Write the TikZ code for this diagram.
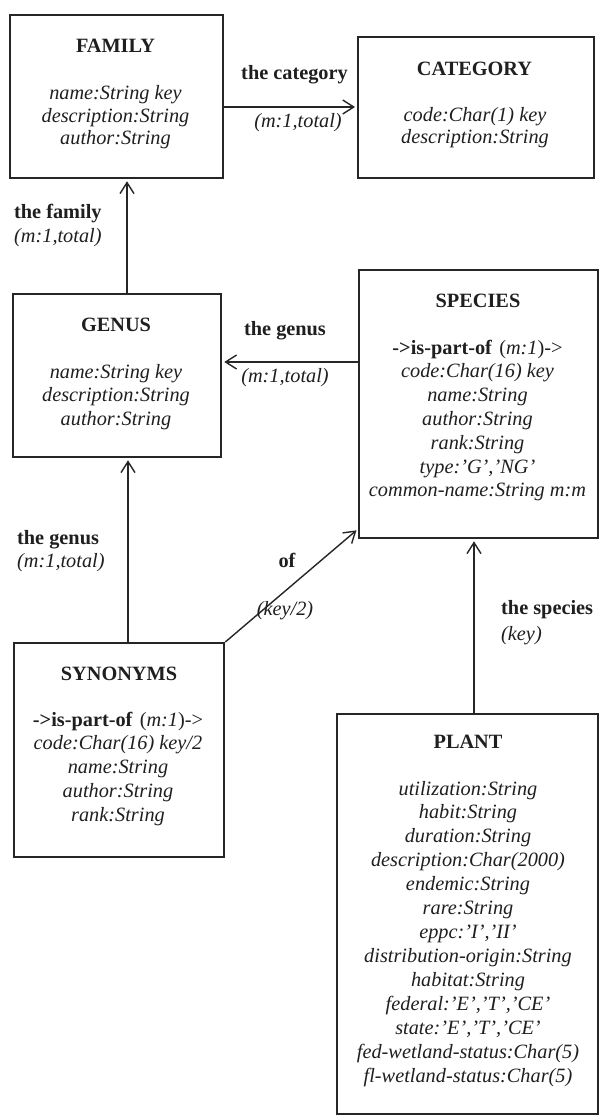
\documentclass[tikz,border=0pt]{standalone}
\usepackage{fontspec}
\setmainfont{Liberation Serif}
\usetikzlibrary{arrows.meta}
\begin{document}
\begin{tikzpicture}[x=1pt,y=-1pt,
  every node/.style={text=black!88},
  box/.style={draw=black!85, line width=2.3pt, anchor=north west, inner sep=0pt},
  conn/.style={draw=black!85, line width=1.4pt, -{Straight Barb[length=11pt,width=14pt,line width=1.4pt]}, shorten >=2pt},
  ttl/.style={font=\fontsize{20.3}{23}\selectfont\bfseries, inner sep=0pt, anchor=base},
  attr/.style={font=\fontsize{20.3}{23}\selectfont\itshape, inner sep=0pt, anchor=base},
  lbl/.style={font=\fontsize{20.3}{23}\selectfont\bfseries, inner sep=0pt},
  card/.style={font=\fontsize{20.3}{23}\selectfont\itshape, inner sep=0pt}]
\fill[white] (0,0) rectangle (599,1115);
\useasboundingbox (0,0) rectangle (599,1115);

% boxes
\node[box, minimum width=213pt, minimum height=163pt] (family) at (9,14) {};
\node[box, minimum width=236pt, minimum height=141pt] (category) at (357,36) {};
\node[box, minimum width=208pt, minimum height=163pt] (genus) at (12,293) {};
\node[box, minimum width=239pt, minimum height=268pt] (species) at (358,269) {};
\node[box, minimum width=210pt, minimum height=214pt] (synonyms) at (13,642) {};
\node[box, minimum width=261pt, minimum height=400pt] (plant) at (336,713) {};

% titles
\node[ttl] (familyT) at (115.5,52.7) {FAMILY};
\node[ttl] (categoryT) at (474.5,75.7) {CATEGORY};
\node[ttl] (genusT) at (116,331.7) {GENUS};
\node[ttl] (speciesT) at (478,307.7) {SPECIES};
\node[ttl] (synonymsT) at (119,680.7) {SYNONYMS};
\node[ttl] (plantT) at (468,748.7) {PLANT};

% attributes
\foreach \s [count=\i from 0] in {{name:String key},{description:String},{author:String}}
  \node[attr] (fam-\i) at (115.5,100+22.5*\i) {\s};
\foreach \s [count=\i from 0] in {{code:Char(1) key},{description:String}}
  \node[attr] (cat-\i) at (475,122+22*\i) {\s};
\foreach \s [count=\i from 0] in {{name:String key},{description:String},{author:String}}
  \node[attr] (gen-\i) at (116,378+23.5*\i) {\s};
\foreach \s [count=\i from 0] in {{\upshape\textbf{->is-part-of}\hspace{0.35em}(\textit{m:1})->},{code:Char(16) key},{name:String},{author:String},{rank:String},{type:'G','NG'},{common-name:String m:m}}
  \node[attr] (spe-\i) at (477.5,354+23.83*\i) {\s};
\foreach \s [count=\i from 0] in {{\upshape\textbf{->is-part-of}\hspace{0.35em}(\textit{m:1})->},{code:Char(16) key/2},{name:String},{author:String},{rank:String}}
  \node[attr] (syn-\i) at (118,726+23.75*\i) {\s};
\foreach \s [count=\i from 0] in {{utilization:String},{habit:String},{duration:String},{description:Char(2000)},{endemic:String},{rare:String},{eppc:'I','II'},{distribution-origin:String},{habitat:String},{federal:'E','T','CE'},{state:'E','T','CE'},{fed-wetland-status:Char(5)},{fl-wetland-status:Char(5)}}
  \node[attr] (pla-\i) at (468,795+23.92*\i) {\s};

% connectors
\coordinate (yFC) at (0,107);
\coordinate (xGF) at (127,0);
\coordinate (yGS) at (0,362);
\coordinate (xSG) at (128,0);
\coordinate (ySS) at (0,529);
\coordinate (xPS) at (474,0);
\draw[conn] (family.east |- yFC) -- (category.west |- yFC);
\draw[conn] (xGF |- genus.north) -- (xGF |- family.south);
\draw[conn] (species.west |- yGS) -- (genus.east |- yGS);
\draw[conn] (xSG |- synonyms.north) -- (xSG |- genus.south);
\draw[conn] (synonyms.north east) -- (species.west |- ySS);
\draw[conn] (xPS |- plant.north) -- (xPS |- species.south);

% labels
\node[lbl, anchor=mid] (lcat) at (294.5,77) {the category};
\node[card, anchor=mid] (ccat) at (298,125) {(m:1,total)};
\node[lbl, anchor=mid west] (lfam) at (14,216) {the family};
\node[card, anchor=mid west] (cfam) at (14,240) {(m:1,total)};
\node[lbl, anchor=mid] (lgen) at (285,333) {the genus};
\node[card, anchor=mid] (cgen) at (285,380) {(m:1,total)};
\node[lbl, anchor=mid west] (lgen2) at (17,542) {the genus};
\node[card, anchor=mid west] (cgen2) at (17,565) {(m:1,total)};
\node[lbl, anchor=mid] (lof) at (287,565) {of};
\node[card, anchor=mid] (ckey2) at (285,613) {(key/2)};
\node[lbl, anchor=mid west] (lsp) at (501,612) {the species};
\node[card, anchor=mid west] (csp) at (501,638) {(key)};
\end{tikzpicture}
\end{document}
